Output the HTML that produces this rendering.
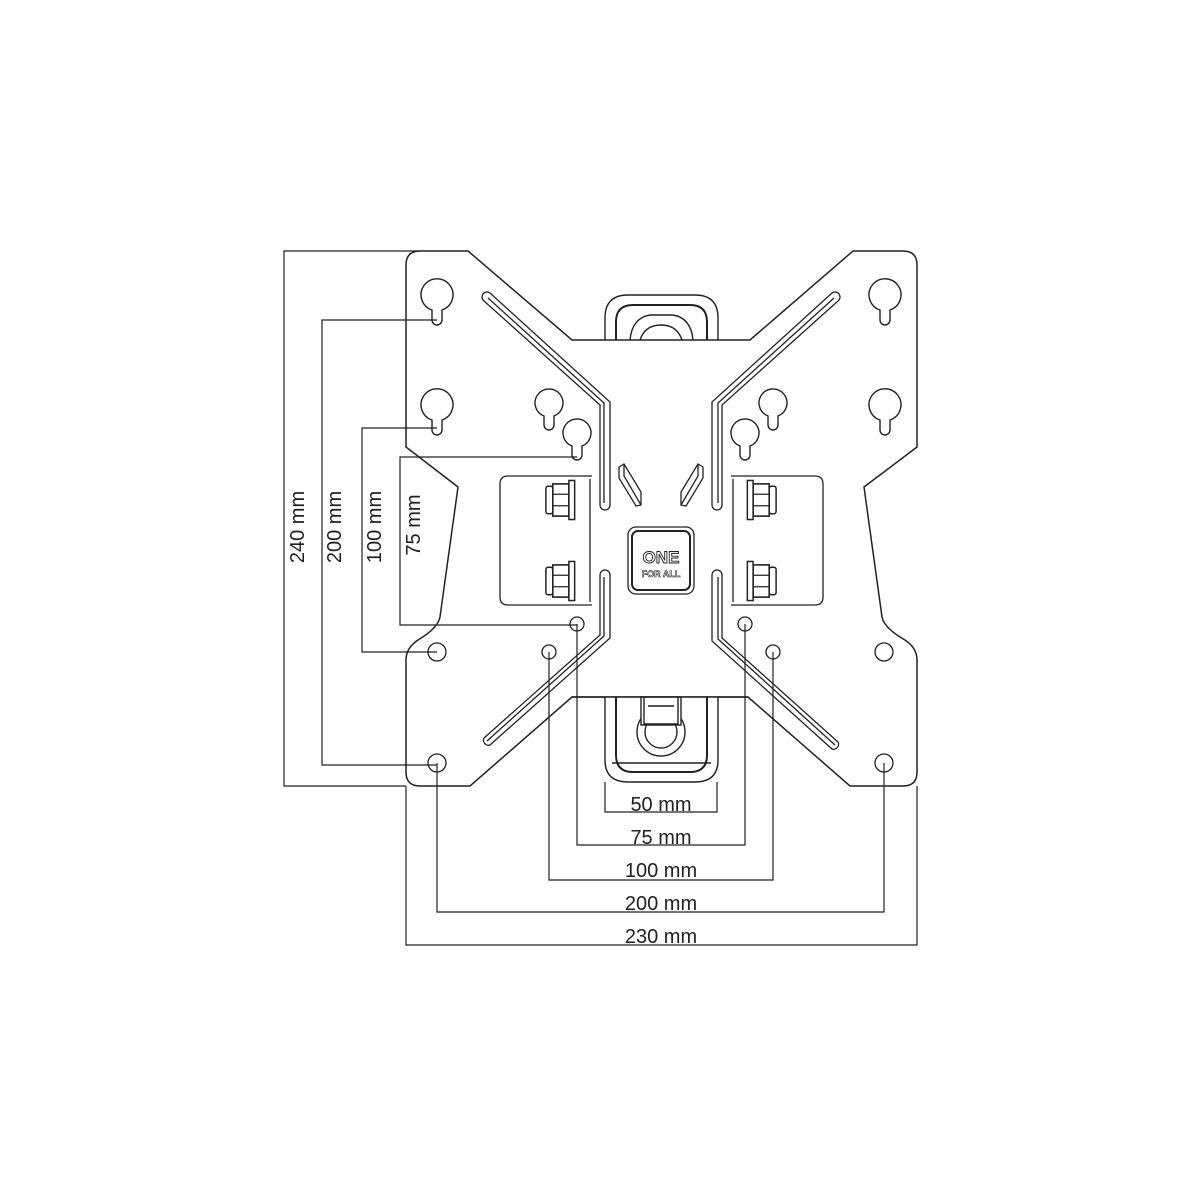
<!DOCTYPE html>
<html><head><meta charset="utf-8"><style>html,body{margin:0;padding:0;background:#fff}svg{display:block}</style></head>
<body>
<svg width="1200" height="1200" viewBox="0 0 1200 1200" xmlns="http://www.w3.org/2000/svg" font-family="Liberation Sans, DejaVu Sans, sans-serif">
<defs>
<g id="keyhole"><path d="M-5,10 A16,16 0 1 1 5,10 L5,20 A5,5 0 0 1 -5,20 Z" fill="#fff" stroke="#222" stroke-width="1.4"/></g>
<g id="keyholeS"><path d="M-5,9 A14,14 0 1 1 5,9 L5,18 A5,5 0 0 1 -5,18 Z" fill="#fff" stroke="#222" stroke-width="1.4"/></g>
<g id="nut"><rect x="-14" y="-12" width="6" height="24" rx="2" fill="#fff" stroke="#222" stroke-width="1.3"/><rect x="-8" y="-14" width="14" height="28" fill="#fff" stroke="#222" stroke-width="1.4"/><line x1="-8" y1="-5" x2="6" y2="-5" stroke="#222"/><line x1="-8" y1="5" x2="6" y2="5" stroke="#222"/><rect x="6" y="-17" width="5" height="34" fill="#fff" stroke="#222" stroke-width="1.3"/></g>
</defs>
<rect width="1200" height="1200" fill="#fff"/>
<g fill="none" stroke="#222" stroke-width="1.4">
<path d="M605,340 L605,318 Q605,295 628,295 L695,295 Q718,295 718,318 L718,340"/>
<path d="M616,340 L616,322 Q616,305 633,305 L690,305 Q707,305 707,322 L707,340" stroke-width="2"/>
<path d="M630,340 Q632,318 650,315 L673,315 Q691,318 693,340"/>
<path d="M640,340 Q645,325 661,325 Q677,325 682,340"/>
<path d="M420,251 L468,251 L572,340 L750,340 L853,251 L903,251 Q917,251 917,265 L917,447 L864,487 L882,617 Q884,628 905,640 Q917,648 917,660 L917,772 Q917,786 903,786 L850,786 L748,697 L572,697 L470,786 L420,786 Q406,786 406,772 L406,660 Q406,648 418,640 Q438,628 440,617 L458,487 L406,447 L406,265 Q406,251 420,251 Z" fill="#fff" stroke-width="1.5"/>
</g>
<g fill="none" stroke="#222" stroke-width="1.4">
<path d="M605,697 L605,760 Q605,782 628,782 L695,782 Q718,782 718,760 L718,697" fill="#fff"/>
<path d="M616,697 L616,755 Q616,772 633,772 L690,772 Q707,772 707,755 L707,697" stroke-width="2"/>
<circle cx="661" cy="732" r="24"/><circle cx="661" cy="732" r="16" fill="#fff"/>
<rect x="641" y="697" width="40" height="28" fill="#fff"/>
<path d="M644,697 L644,724 L678,724 L678,697"/>
<path d="M648,706 L674,706"/>
<line x1="612" y1="763" x2="711" y2="763"/>
<line x1="572" y1="697" x2="748" y2="697" stroke-width="1.5"/>
</g>
<g fill="none" stroke="#222" stroke-width="1.3">
<path d="M484,301 L600,405 L600,505 A5,5 0 0 0 610,505 L610,402 L490,293 A5,5 0 0 0 484,301 Z"/>
<path d="M488,298 L604,403 L604,503"/>
<path d="M838,301 L722,405 L722,505 A5,5 0 0 1 712,505 L712,402 L832,293 A5,5 0 0 1 838,301 Z"/>
<path d="M834,298 L718,403 L718,503"/>
<path d="M600,575 A5,5 0 0 1 610,575 L610,638 L490,745 A5,5 0 0 1 484,738 L600,635 Z"/>
<path d="M604,577 L604,636 L487,741"/>
<path d="M712,575 A5,5 0 0 1 722,575 L722,638 L838,742 A5,5 0 0 1 832,749 L712,641 Z"/>
<path d="M718,577 L718,639 L835,745"/>
<path d="M592,476 L508,476 Q500,476 500,484 L500,597 Q500,605 508,605 L592,605"/>
<path d="M731,476 L815,476 Q823,476 823,484 L823,597 Q823,605 815,605 L731,605"/>
<line x1="590" y1="479" x2="590" y2="602"/><line x1="733" y1="479" x2="733" y2="602"/>
<path d="M619,467 L624,464 L641,492 L641,505 L636,506 L619,478 Z M624,464 L624,476 L641,505"/>
<path d="M703,467 L698,464 L681,492 L681,505 L686,506 L703,478 Z M698,464 L698,476 L681,505"/>
<rect x="628" y="527" width="66" height="67" rx="8"/>
<rect x="632" y="531" width="58" height="59" rx="6" stroke-width="2"/>
</g>
<text x="661" y="563" text-anchor="middle" font-size="17" font-weight="bold" fill="#fff" stroke="#222" stroke-width="0.9">ONE</text>
<text x="661" y="577" text-anchor="middle" font-size="9" font-weight="bold" fill="#fff" stroke="#222" stroke-width="0.6">FOR ALL</text>
<use href="#nut" transform="translate(562,500) scale(1.15)"/><use href="#nut" transform="translate(562,581) scale(1.15)"/>
<use href="#nut" transform="translate(760,500) scale(-1.15,1.15)"/><use href="#nut" transform="translate(760,581) scale(-1.15,1.15)"/>
<use href="#keyhole" x="437" y="300"/><use href="#keyhole" x="437" y="410"/>
<use href="#keyhole" x="885" y="300"/><use href="#keyhole" x="885" y="410"/>
<use href="#keyholeS" x="549" y="407"/><use href="#keyholeS" x="577" y="437"/>
<use href="#keyholeS" x="773" y="407"/><use href="#keyholeS" x="745" y="437"/>
<g fill="#fff" stroke="#222" stroke-width="1.3">
<circle cx="437" cy="652" r="9"/><circle cx="549" cy="652" r="7"/><circle cx="577" cy="624" r="7"/>
<circle cx="745" cy="624" r="7"/><circle cx="773" cy="652" r="7"/><circle cx="884" cy="652" r="9"/>
<circle cx="437" cy="763" r="9"/><circle cx="884" cy="763" r="9"/>
</g>
<g fill="none" stroke="#222" stroke-width="1.2">
<path d="M420,251 L284,251 L284,786 L406,786"/>
<path d="M437,320 L322,320 L322,765 L437,765"/>
<path d="M437,428 L362,428 L362,652 L437,652"/>
<path d="M577,457 L400,457 L400,625 L577,625"/>
<path d="M605,782 L605,812 L717,812 L717,782"/>
<path d="M577,624 L577,845 L745,845 L745,624"/>
<path d="M549,652 L549,880 L773,880 L773,652"/>
<path d="M437,763 L437,912 L884,912 L884,763"/>
<path d="M406,786 L406,945 L917,945 L917,786"/>
</g>
<g font-size="20" fill="#222" text-anchor="middle">
<text x="661" y="811">50 mm</text>
<text x="661" y="844">75 mm</text>
<text x="661" y="877">100 mm</text>
<text x="661" y="910">200 mm</text>
<text x="661" y="943">230 mm</text>
<text transform="translate(304,527) rotate(-90)">240 mm</text>
<text transform="translate(341,527) rotate(-90)">200 mm</text>
<text transform="translate(381,527) rotate(-90)">100 mm</text>
<text transform="translate(420,525) rotate(-90)">75 mm</text>
</g>
</svg>
</body></html>
